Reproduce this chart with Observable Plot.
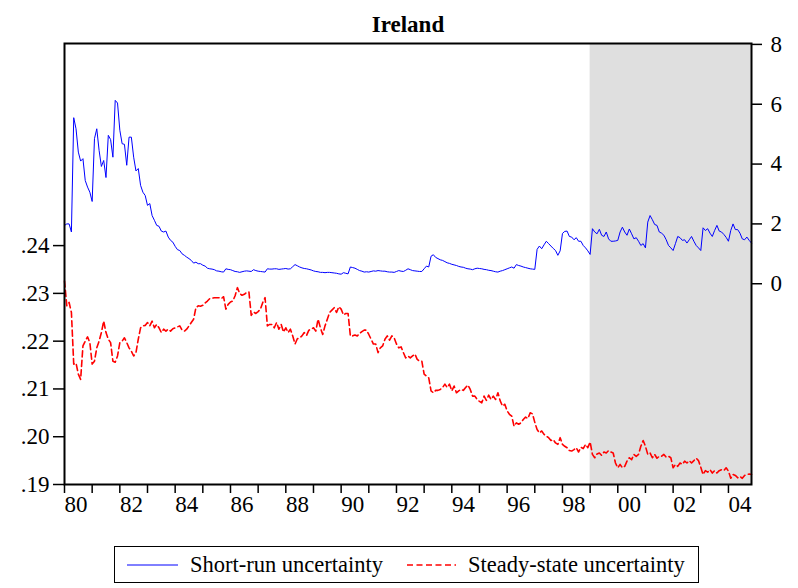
<!DOCTYPE html>
<html>
<head>
<meta charset="utf-8">
<script src="https://cdn.jsdelivr.net/npm/d3@7"></script>
<script src="https://cdn.jsdelivr.net/npm/@observablehq/plot@0.6"></script>
<style>
  body { margin: 0; background: #fff; }
  #wrap { position: relative; width: 798px; height: 588px; font-family: "Liberation Serif", "Times New Roman", Times, serif; color: #000; }
  #chart { position: absolute; left: 0; top: 0; }
  #legend { position: absolute; left: 114px; top: 546px; width: 583px; height: 35px; border: 1px solid #000; background: #fff; }
  .sw { position: absolute; top: 16px; }
  .lab { position: absolute; top: 0px; line-height: 35px; font-size: 22.5px; white-space: nowrap; }
</style>
</head>
<body>
<div id="wrap">
  <div id="chart"></div>
  <div id="legend"></div>
</div>
<script>
// ---- data (monthly, starting 1980-01) ----
const title = "Ireland";
const firstYear = 1980;           // first observation: January 1980
const shadeFrom = "1999-01";      // shaded period start (to end of sample)
const seriesNames = ["Short-run uncertainty", "Steady-state uncertainty"];

// Short-run uncertainty (right axis)
const srValues = [
  1.95, 2.00, 2.00, 1.73, 5.55, 5.18, 4.40, 4.10, 4.18, 3.45,
  3.23, 3.06, 2.75, 4.85, 5.18, 4.46, 3.92, 4.12, 3.55, 4.96,
  4.82, 4.23, 6.13, 6.04, 5.13, 4.68, 4.66, 3.96, 4.90, 4.90,
  4.23, 3.77, 3.85, 3.29, 3.06, 2.95, 2.62, 2.68, 2.28, 2.12,
  1.95, 1.92, 1.76, 1.73, 1.76, 1.56, 1.45, 1.39, 1.25, 1.14,
  1.11, 1.00, 0.95, 0.89, 0.84, 0.78, 0.69, 0.72, 0.67,
  0.67, 0.62, 0.59, 0.52, 0.50, 0.49, 0.47, 0.43, 0.42, 0.40,
  0.39, 0.50, 0.48, 0.47, 0.44, 0.41, 0.40, 0.38, 0.40, 0.42,
  0.43, 0.42, 0.41, 0.47, 0.44, 0.42, 0.41, 0.40, 0.39, 0.50,
  0.49, 0.49, 0.50, 0.50, 0.48, 0.49, 0.50, 0.51, 0.49, 0.50,
  0.57, 0.64, 0.60, 0.56, 0.53, 0.51, 0.50, 0.48, 0.46, 0.43,
  0.41, 0.40, 0.38, 0.38, 0.37, 0.38, 0.38, 0.37, 0.36, 0.35,
  0.33, 0.32, 0.37, 0.35, 0.33, 0.56, 0.54, 0.52, 0.48, 0.44,
  0.42, 0.39, 0.40, 0.39, 0.41, 0.43, 0.42, 0.44, 0.43, 0.42,
  0.42, 0.40, 0.39, 0.39, 0.38, 0.41, 0.44, 0.42, 0.41, 0.45,
  0.50, 0.47, 0.44, 0.43, 0.42, 0.41, 0.41, 0.50, 0.59, 0.56,
  0.92, 0.97, 0.88, 0.84, 0.80, 0.78, 0.74, 0.70, 0.68, 0.65,
  0.63, 0.61, 0.58, 0.56, 0.55, 0.52, 0.50, 0.49, 0.47, 0.50,
  0.52, 0.51, 0.50, 0.48, 0.47, 0.45, 0.44, 0.42, 0.40, 0.39,
  0.42, 0.44, 0.47, 0.50, 0.53, 0.56, 0.52, 0.64, 0.61, 0.59,
  0.56, 0.54, 0.52, 0.50, 0.49, 0.48, 1.15, 1.26, 1.17, 1.30,
  1.42, 1.34, 1.26, 1.18, 1.11, 0.95, 1.10, 1.68, 1.75, 1.76,
  1.58, 1.56, 1.47, 1.54, 1.42, 1.42, 1.28, 1.20, 1.10,
  0.98, 1.84, 1.73, 1.67, 1.82, 1.62, 1.58, 1.73, 1.50, 1.42,
  1.42, 1.43, 1.45, 1.73, 1.89, 1.73, 1.62, 1.83, 1.67, 1.50,
  1.54, 1.42, 1.28, 1.34, 1.20, 2.06, 2.28, 2.14, 1.98, 1.95,
  1.73, 1.69, 1.62, 1.47, 1.28, 1.20, 1.11, 1.34, 1.58, 1.54,
  1.45, 1.47, 1.36, 1.47, 1.58, 1.42, 1.28, 1.20, 1.11, 1.87,
  1.78, 1.84, 1.69, 1.58, 1.78, 1.95, 1.76, 1.73, 1.65, 1.55,
  1.42, 1.78, 2.00, 1.81, 1.81, 1.69, 1.50, 1.47, 1.56, 1.45,
  1.36
];

// Steady-state uncertainty (left axis)
const ssValues = [
  0.2326, 0.2274, 0.2281, 0.2260, 0.2152, 0.2154, 0.2131, 0.2120, 0.2190, 0.2200,
  0.2209, 0.2197, 0.2152, 0.2158, 0.2186, 0.2200, 0.2218, 0.2242, 0.2218, 0.2204,
  0.2197, 0.2158, 0.2156, 0.2169, 0.2197, 0.2200, 0.2207, 0.2197, 0.2186, 0.2179,
  0.2169, 0.2176, 0.2204, 0.2228, 0.2232, 0.2233, 0.2239, 0.2232, 0.2242, 0.2228,
  0.2235, 0.2228, 0.2218, 0.2225, 0.2221, 0.2225, 0.2221, 0.2226, 0.2228, 0.2230,
  0.2232, 0.2223, 0.2221, 0.2225, 0.2232, 0.2239, 0.2246, 0.2270, 0.2274, 0.2273,
  0.2275, 0.2280, 0.2284, 0.2289, 0.2290, 0.2291, 0.2291, 0.2291, 0.2289, 0.2293,
  0.2267, 0.2277, 0.2282, 0.2284, 0.2295, 0.2312, 0.2300, 0.2296, 0.2298, 0.2302,
  0.2303, 0.2254, 0.2261, 0.2258, 0.2262, 0.2267, 0.2281, 0.2291, 0.2232, 0.2235,
  0.2235, 0.2228, 0.2239, 0.2225, 0.2235, 0.2219, 0.2228, 0.2218, 0.2225, 0.2211,
  0.2194, 0.2205, 0.2207, 0.2211, 0.2218, 0.2212, 0.2223, 0.2225, 0.2228, 0.2221,
  0.2246, 0.2228, 0.2214, 0.2232, 0.2246, 0.2260, 0.2265, 0.2270, 0.2260, 0.2272,
  0.2267, 0.2255, 0.2258, 0.2258, 0.2211, 0.2211, 0.2213, 0.2211, 0.2216, 0.2220,
  0.2223, 0.2223, 0.2214, 0.2204, 0.2194, 0.2194, 0.2176, 0.2186, 0.2190, 0.2204,
  0.2211, 0.2202, 0.2211, 0.2207, 0.2194, 0.2186, 0.2188, 0.2176, 0.2165, 0.2169,
  0.2165, 0.2169, 0.2173, 0.2162, 0.2158, 0.2158, 0.2131, 0.2127, 0.2123,
  0.2096, 0.2092, 0.2097, 0.2097, 0.2099, 0.2103, 0.2110, 0.2103, 0.2110, 0.2096,
  0.2106, 0.2092, 0.2096, 0.2099, 0.2097, 0.2103, 0.2108, 0.2099, 0.2085, 0.2085,
  0.2078, 0.2074, 0.2071, 0.2085, 0.2076, 0.2087, 0.2078, 0.2085, 0.2078, 0.2092,
  0.2075, 0.2064, 0.2068, 0.2054, 0.2047, 0.2043, 0.2022, 0.2029, 0.2026, 0.2029,
  0.2036, 0.2041, 0.2038, 0.2050, 0.2048, 0.2030, 0.2015, 0.2008, 0.2012, 0.2005,
  0.2001, 0.1998, 0.1992, 0.1994, 0.1987, 0.1984, 0.1998, 0.1984, 0.1980, 0.1977,
  0.1971, 0.1970, 0.1973, 0.1977, 0.1968, 0.1978, 0.1975, 0.1984, 0.1977, 0.1989,
  0.1963, 0.1956, 0.1964, 0.1966, 0.1961, 0.1968, 0.1966, 0.1971, 0.1968, 0.1966,
  0.1945, 0.1935, 0.1942, 0.1935, 0.1938, 0.1949, 0.1956, 0.1952, 0.1963, 0.1959,
  0.1963, 0.1980, 0.1992, 0.1980, 0.1963, 0.1966, 0.1956, 0.1963, 0.1955, 0.1959,
  0.1959, 0.1963, 0.1957, 0.1959, 0.1956, 0.1935, 0.1942, 0.1938, 0.1945, 0.1942,
  0.1949, 0.1945, 0.1950, 0.1945, 0.1950, 0.1955, 0.1950, 0.1936, 0.1921, 0.1929,
  0.1926, 0.1931, 0.1924, 0.1929, 0.1924, 0.1929, 0.1931, 0.1929, 0.1935, 0.1928,
  0.1913, 0.1921, 0.1919, 0.1914, 0.1917, 0.1913, 0.1919, 0.1921, 0.1922, 0.1921
];

// axis ticks
const leftTicks = [0.19, 0.20, 0.21, 0.22, 0.23, 0.24];
const rightTicks = [0, 2, 4, 6, 8];
const tickYears = d3.range(1980, 2005);
const labelYears = [1980, 1982, 1984, 1986, 1988, 1990, 1992, 1994, 1996, 1998, 2000, 2002, 2004];

// axis extents
const leftMin = 0.19, leftMax = 0.2823;
const rightMin = -6.71, rightMax = 8.03;

// ---- build ----
const toLeft = v => leftMin + (v - rightMin) / (rightMax - rightMin) * (leftMax - leftMin);
const fromLeft = y => rightMin + (y - leftMin) / (leftMax - leftMin) * (rightMax - rightMin);
const tOf = i => firstYear + i / 12;

const sr = srValues.map((v, i) => ({t: tOf(i), y: toLeft(v)}));
const ss = ssValues.map((v, i) => ({t: tOf(i), y: v}));
const xEnd = tOf(Math.max(srValues.length, ssValues.length) - 1);
const [shY, shM] = shadeFrom.split("-").map(Number);
const shade = [{x1: shY + (shM - 1) / 12, x2: xEnd, y1: leftMin, y2: leftMax}];

const serif = "'Liberation Serif', 'Times New Roman', Times, serif";

const chart = Plot.plot({
  width: 798,
  height: 520,
  marginLeft: 64,
  marginRight: 47,
  marginTop: 43,
  marginBottom: 36,
  style: {fontFamily: serif, fontSize: "23px", color: "#000", background: "#fff", overflow: "visible"},
  x: {domain: [firstYear, xEnd]},
  y: {domain: [leftMin, leftMax]},
  marks: [
    Plot.rect(shade, {x1: "x1", x2: "x2", y1: "y1", y2: "y2", fill: "#dfdfdf"}),
    Plot.line(ss, {x: "t", y: "y", stroke: "#ff0000", strokeWidth: 1.6, strokeDasharray: "6,3.5"}),
    Plot.line(sr, {x: "t", y: "y", stroke: "#0000ff", strokeWidth: 1}),
    Plot.frame({stroke: "#000", strokeWidth: 2}),
    Plot.axisY(leftTicks, {anchor: "left", tickSize: 11, tickPadding: 4, strokeWidth: 1.5,
      fontFamily: serif, fontSize: 23,
      tickFormat: d => d.toFixed(2).slice(1)}),
    Plot.axisY(rightTicks.map(toLeft), {anchor: "right", tickSize: 10, tickPadding: 9, strokeWidth: 1.5,
      fontFamily: serif, fontSize: 23,
      tickFormat: d => String(Math.round(fromLeft(d)))}),
    Plot.axisX(tickYears, {anchor: "bottom", tickSize: 9, strokeWidth: 1.5, tickFormat: () => ""}),
    Plot.axisX(labelYears.map(y => y + 0.42), {anchor: "bottom", tickSize: 0, tickPadding: 11,
      fontFamily: serif, fontSize: 23,
      tickFormat: d => String(Math.floor(d)).slice(2)}),
    Plot.text([title], {text: d => d, frameAnchor: "top", dy: -12, lineAnchor: "bottom",
      fontFamily: serif, fontWeight: "bold", fontSize: 23})
  ]
});
document.getElementById("chart").appendChild(chart);

// ---- legend ----
const legend = document.getElementById("legend");
const items = [
  {name: seriesNames[0], color: "#0000ff", dash: null, sw: 12, lab: 75, w: 51, width: 1},
  {name: seriesNames[1], color: "#ff0000", dash: "6,3.5", sw: 292, lab: 353, w: 49, width: 1.6}
];
for (const it of items) {
  const s = document.createElementNS("http://www.w3.org/2000/svg", "svg");
  s.setAttribute("class", "sw");
  s.setAttribute("width", it.w);
  s.setAttribute("height", 4);
  s.style.left = it.sw + "px";
  const ln = document.createElementNS("http://www.w3.org/2000/svg", "line");
  ln.setAttribute("x1", 0); ln.setAttribute("x2", it.w);
  ln.setAttribute("y1", 2); ln.setAttribute("y2", 2);
  ln.setAttribute("stroke", it.color);
  ln.setAttribute("stroke-width", it.width);
  if (it.dash) ln.setAttribute("stroke-dasharray", it.dash);
  s.appendChild(ln);
  legend.appendChild(s);
  const t = document.createElement("div");
  t.className = "lab";
  t.style.left = it.lab + "px";
  t.textContent = it.name;
  legend.appendChild(t);
}
</script>
</body>
</html>
